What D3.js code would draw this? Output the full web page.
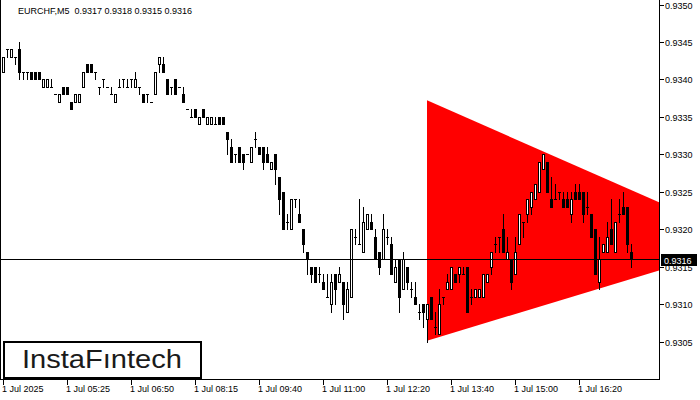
<!DOCTYPE html>
<html><head><meta charset="utf-8">
<script src="https://cdn.jsdelivr.net/npm/d3@7"></script>
<style>
html,body{margin:0;padding:0;background:#fff;}
svg{display:block;}
text{font-family:"Liberation Sans",Arial,sans-serif;}
</style></head>
<body>
<svg id="chart" width="700" height="400"></svg>
<script>
const symbolTitle = "EURCHF,M5  0.9317 0.9318 0.9315 0.9316";
const open = [
0.9341,0.9344,0.9343,0.9343,0.9344,0.9341,0.9341,0.9341,0.9341,0.9341,
0.9339,0.9339,0.9339,0.9338,0.9337,0.9339,0.9339,0.9337,0.9337,0.9337,
0.9339,0.9342,0.9342,0.9341,0.9339,0.9340,0.9339,0.9338,0.9337,0.9339,
0.9340,0.9339,0.9340,0.9339,0.9339,0.9338,0.9338,0.9337,0.9338,0.9342,
0.9342,0.9340,0.9339,0.9340,0.9339,0.9338,0.9336,0.9335,0.9336,0.9334,
0.9336,0.9334,0.9334,0.9334,0.9335,0.9335,0.9333,0.9331,0.9330,0.9331,
0.9330,0.9330,0.9329,0.9332,0.9331,0.9331,0.9330,0.9328,0.9330,0.9327,
0.9325,0.9321,0.9320,0.9324,0.9322,0.9320,0.9317,0.9315,0.9315,0.9314,
0.9313,0.9311,0.9310,0.9314,0.9313,0.9313,0.9309,0.9311,0.9319,0.9318,
0.9317,0.9320,0.9321,0.9319,0.9317,0.9316,0.9319,0.9318,0.9313,0.9316,
0.9312,0.9315,0.9312,0.9311,0.9309,0.9310,0.9308,0.9311,0.9307,0.9306,
0.9311,0.9312,0.9312,0.9314,0.9314,0.9314,0.9315,0.9311,0.9311,0.9311,
0.9311,0.9313,0.9315,0.9318,0.9319,0.9320,0.9316,0.9316,0.9314,0.9318,
0.9321,0.9322,0.9323,0.9324,0.9325,0.9328,0.9329,0.9324,0.9324,0.9325,
0.9324,0.9324,0.9322,0.9325,0.9325,0.9325,0.9323,0.9322,0.9320,0.9313,
0.9317,0.9317,0.9320,0.9317,0.9322,0.9323,0.9323,0.9317];
const high = [
0.9343,0.9344,0.9344,0.9343,0.9345,0.9341,0.9341,0.9341,0.9341,0.9341,
0.9340,0.9340,0.9340,0.9338,0.9338,0.9339,0.9339,0.9337,0.9338,0.9338,
0.9341,0.9342,0.9342,0.9341,0.9339,0.9340,0.9339,0.9339,0.9338,0.9340,
0.9340,0.9340,0.9340,0.9341,0.9339,0.9338,0.9338,0.9337,0.9341,0.9343,
0.9343,0.9340,0.9339,0.9340,0.9339,0.9339,0.9336,0.9336,0.9336,0.9335,
0.9336,0.9335,0.9335,0.9335,0.9335,0.9335,0.9333,0.9332,0.9330,0.9331,
0.9330,0.9330,0.9331,0.9333,0.9331,0.9331,0.9331,0.9329,0.9330,0.9327,
0.9325,0.9322,0.9324,0.9324,0.9324,0.9320,0.9317,0.9315,0.9315,0.9315,
0.9314,0.9314,0.9314,0.9314,0.9315,0.9313,0.9313,0.9320,0.9320,0.9324,
0.9323,0.9322,0.9322,0.9320,0.9317,0.9322,0.9320,0.9319,0.9316,0.9316,
0.9317,0.9315,0.9313,0.9313,0.9310,0.9310,0.9310,0.9311,0.9309,0.9312,
0.9311,0.9314,0.9315,0.9314,0.9315,0.9315,0.9315,0.9312,0.9312,0.9312,
0.9314,0.9314,0.9317,0.9319,0.9319,0.9322,0.9319,0.9316,0.9319,0.9322,
0.9321,0.9324,0.9325,0.9326,0.9329,0.9330,0.9329,0.9327,0.9326,0.9325,
0.9325,0.9325,0.9325,0.9326,0.9326,0.9325,0.9325,0.9322,0.9320,0.9319,
0.9318,0.9321,0.9324,0.9321,0.9324,0.9325,0.9323,0.9318];
const low = [
0.9341,0.9343,0.9343,0.9342,0.9340,0.9340,0.9340,0.9340,0.9340,0.9340,
0.9339,0.9339,0.9339,0.9338,0.9337,0.9338,0.9338,0.9336,0.9337,0.9337,
0.9339,0.9341,0.9341,0.9340,0.9338,0.9339,0.9339,0.9338,0.9337,0.9339,
0.9339,0.9339,0.9339,0.9339,0.9338,0.9337,0.9337,0.9337,0.9338,0.9341,
0.9341,0.9338,0.9338,0.9338,0.9339,0.9337,0.9336,0.9335,0.9335,0.9334,
0.9335,0.9334,0.9334,0.9334,0.9334,0.9334,0.9330,0.9329,0.9329,0.9329,
0.9328,0.9330,0.9329,0.9331,0.9330,0.9328,0.9329,0.9328,0.9326,0.9322,
0.9320,0.9320,0.9320,0.9323,0.9321,0.9317,0.9314,0.9313,0.9313,0.9313,
0.9312,0.9311,0.9309,0.9310,0.9313,0.9308,0.9309,0.9311,0.9318,0.9318,
0.9317,0.9320,0.9320,0.9316,0.9314,0.9316,0.9318,0.9314,0.9313,0.9309,
0.9312,0.9312,0.9311,0.9310,0.9308,0.9307,0.9305,0.9308,0.9306,0.9306,
0.9310,0.9312,0.9312,0.9313,0.9313,0.9314,0.9309,0.9310,0.9311,0.9311,
0.9311,0.9313,0.9314,0.9317,0.9317,0.9317,0.9316,0.9312,0.9314,0.9318,
0.9319,0.9321,0.9322,0.9324,0.9325,0.9328,0.9325,0.9323,0.9324,0.9324,
0.9323,0.9323,0.9321,0.9324,0.9324,0.9321,0.9322,0.9319,0.9314,0.9312,
0.9317,0.9317,0.9318,0.9317,0.9321,0.9322,0.9317,0.9315];
const close = [
0.9343,0.9344,0.9344,0.9343,0.9341,0.9341,0.9341,0.9340,0.9340,0.9340,
0.9340,0.9340,0.9339,0.9338,0.9338,0.9338,0.9338,0.9336,0.9338,0.9338,
0.9341,0.9341,0.9341,0.9341,0.9339,0.9340,0.9339,0.9338,0.9338,0.9339,
0.9340,0.9339,0.9340,0.9340,0.9339,0.9337,0.9338,0.9337,0.9341,0.9343,
0.9341,0.9338,0.9339,0.9338,0.9339,0.9337,0.9336,0.9335,0.9335,0.9335,
0.9335,0.9335,0.9335,0.9334,0.9334,0.9334,0.9332,0.9329,0.9330,0.9329,
0.9329,0.9330,0.9331,0.9332,0.9330,0.9329,0.9329,0.9329,0.9328,0.9324,
0.9320,0.9321,0.9324,0.9324,0.9321,0.9318,0.9316,0.9314,0.9313,0.9314,
0.9312,0.9311,0.9313,0.9312,0.9314,0.9310,0.9312,0.9320,0.9319,0.9318,
0.9321,0.9322,0.9320,0.9316,0.9315,0.9320,0.9319,0.9314,0.9315,0.9311,
0.9316,0.9313,0.9312,0.9310,0.9309,0.9309,0.9310,0.9308,0.9307,0.9310,
0.9311,0.9313,0.9315,0.9313,0.9315,0.9314,0.9309,0.9311,0.9312,0.9312,
0.9314,0.9314,0.9317,0.9318,0.9319,0.9317,0.9317,0.9313,0.9317,0.9322,
0.9321,0.9324,0.9325,0.9326,0.9329,0.9330,0.9325,0.9323,0.9324,0.9325,
0.9323,0.9323,0.9324,0.9324,0.9324,0.9322,0.9323,0.9319,0.9314,0.9316,
0.9318,0.9319,0.9318,0.9321,0.9322,0.9322,0.9318,0.9316];
const timeLabels = ["1 Jul 2025","1 Jul 05:25","1 Jul 06:50","1 Jul 08:15","1 Jul 09:40","1 Jul 11:00","1 Jul 12:20","1 Jul 13:40","1 Jul 15:00","1 Jul 16:20"];
const timeLabelBars = [0,16,32,48,64,80,96,112,128,144];
const priceTicks = [0.9350,0.9345,0.9340,0.9335,0.9330,0.9325,0.9320,0.9315,0.9310,0.9305];
const currentPrice = 0.9316;
// triangle pattern vertices: [bar position, price]
const triangleBars = [106.5, 106.5, 187.4];
const trianglePrices = [0.93372, 0.93051, 0.93182];
const logoText = "InstaF\u0131ntech";

const n = open.length;
const svg = d3.select("#chart");
const plotRight = 659, plotBottom = 379;
const x = d3.scaleLinear().domain([0, n]).range([1, 1 + 4 * n]);
const y = d3.scaleLinear().domain([0.9305, 0.9350]).range([341.5, 4.5]);

svg.append("rect").attr("width",700).attr("height",400).attr("fill","#fff");
svg.append("clipPath").attr("id","plotclip").append("rect")
  .attr("x",1).attr("y",0).attr("width",plotRight-1).attr("height",plotBottom);
const plot = svg.append("g").attr("clip-path","url(#plotclip)");

// triangle
const triPts = triangleBars.map((b,i)=>[x(b), y(trianglePrices[i])]);
plot.append("path").attr("d", d3.line()(triPts) + "Z").attr("fill","#ff0000");

// candles
const g = plot.append("g");
for (let i = 0; i < n; i++) {
  const c = Math.round(x(i + 0.5));
  const o = open[i], cl = close[i], h = high[i], l = low[i];
  const yh = Math.round(y(h)), yl = Math.round(y(l));
  const yt = Math.round(y(Math.max(o, cl))), yb = Math.round(y(Math.min(o, cl)));
  g.append("rect").attr("x", c).attr("y", yh).attr("width",1).attr("height", yl - yh + 1).attr("fill","#000");
  if (Math.abs(o - cl) < 1e-7) {
    g.append("rect").attr("x", c-1).attr("y", yt).attr("width",3).attr("height",1).attr("fill","#000");
  } else if (cl > o) {
    g.append("rect").attr("x", c-0.5).attr("y", yt+0.5).attr("width",2).attr("height", yb-yt)
      .attr("fill","#fff").attr("stroke","#000").attr("stroke-width",1);
  } else {
    g.append("rect").attr("x", c-1).attr("y", yt).attr("width",3).attr("height", yb-yt+1).attr("fill","#000");
  }
}

// current price line
const yc = Math.round(y(currentPrice)) + 0.5;
svg.append("line").attr("x1",0).attr("x2",plotRight).attr("y1",yc).attr("y2",yc)
  .attr("stroke","#000").attr("stroke-width",1);

// header
svg.append("text").attr("x",18).attr("y",14).attr("font-size",9).attr("fill","#000").attr("xml:space","preserve").text(symbolTitle);

// frame
svg.append("line").attr("x1",0.5).attr("x2",0.5).attr("y1",0).attr("y2",plotBottom+0.5).attr("stroke","#000");
svg.append("line").attr("x1",0).attr("x2",plotRight+1).attr("y1",plotBottom+0.5).attr("y2",plotBottom+0.5).attr("stroke","#000");
svg.append("line").attr("x1",plotRight+0.5).attr("x2",plotRight+0.5).attr("y1",0).attr("y2",plotBottom+1).attr("stroke","#000");

// right axis
priceTicks.forEach(p => {
  const yy = Math.round(y(p)) + 0.5;
  svg.append("line").attr("x1",plotRight+1).attr("x2",plotRight+5).attr("y1",yy).attr("y2",yy).attr("stroke","#000");
  svg.append("text").attr("x",665).attr("y",yy+3.5).attr("font-size",9).attr("fill","#000").text(p.toFixed(4));
});
// current price tag
svg.append("rect").attr("x",661).attr("y",Math.round(y(currentPrice))-5).attr("width",36).attr("height",12).attr("fill","#000");
svg.append("text").attr("x",664).attr("y",Math.round(y(currentPrice))+4.5).attr("font-size",9).attr("fill","#fff").text(currentPrice.toFixed(4));

// bottom axis
timeLabels.forEach((t, k) => {
  const xx = Math.round(x(timeLabelBars[k] + 0.5)) + 0.5;
  svg.append("line").attr("x1",xx).attr("x2",xx).attr("y1",plotBottom+1).attr("y2",plotBottom+6).attr("stroke","#000");
  svg.append("text").attr("x",xx-1.5).attr("y",392).attr("font-size",9).attr("fill","#000").text(t);
});

// logo
svg.append("rect").attr("x",4).attr("y",342).attr("width",197).attr("height",36)
  .attr("fill","#fff").attr("stroke","#000").attr("stroke-width",2);
svg.append("text").attr("x",102).attr("y",368).attr("text-anchor","middle")
  .attr("font-family","Lato, 'Open Sans', sans-serif").attr("font-size",25).attr("fill","#1a1a1a")
  .attr("textLength",160).attr("lengthAdjust","spacingAndGlyphs").text(logoText);
</script>
</body></html>
